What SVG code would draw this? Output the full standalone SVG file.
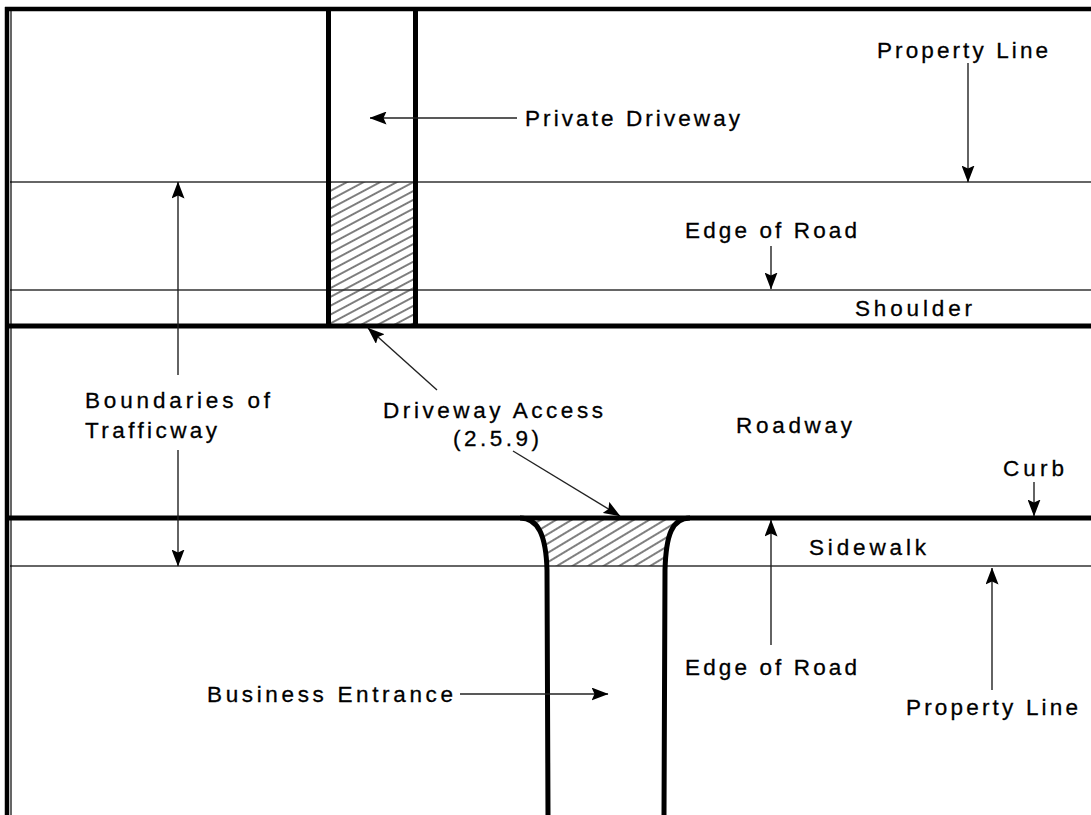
<svg xmlns="http://www.w3.org/2000/svg" width="1091" height="815" viewBox="0 0 1091 815">
<style>
.thick{stroke:#000;stroke-width:5;fill:none}
.border{stroke:#000;stroke-width:4.5;fill:none}
.thin{stroke:#333;stroke-width:1.4;fill:none}
.arrow{stroke:#222;stroke-width:1.4;fill:none;marker-end:url(#ah)}
.lbl{font-family:"Liberation Sans",Arial,sans-serif;font-size:22.5px;fill:#000;stroke:#000;stroke-width:0.3}
</style>
<defs>
<marker id="ah" viewBox="0 0 17 13" markerWidth="17" markerHeight="13" refX="16.5" refY="6.5" orient="auto" markerUnits="userSpaceOnUse">
<path d="M0,0 L17,6.5 L0,13 L3,6.5 Z" fill="#000"/>
</marker>
<pattern id="hatch" patternUnits="userSpaceOnUse" width="10" height="7.8" patternTransform="rotate(-28)">
<line x1="-1" y1="3.9" x2="11" y2="3.9" stroke="#000" stroke-width="1"/>
</pattern>
<pattern id="hatch2" patternUnits="userSpaceOnUse" width="10" height="8" patternTransform="rotate(-31)">
<line x1="-1" y1="4" x2="11" y2="4" stroke="#000" stroke-width="1"/>
</pattern>
<clipPath id="entClip">
<path d="M520 518 C538 518 546 535 547 566 L666 566 C666 535 672 518 690 518 Z"/>
</clipPath>
</defs>
<rect width="1091" height="815" fill="#fff"/>

<g id="plan">
<rect x="331" y="182" width="82" height="144" fill="url(#hatch)"/>
<rect x="515" y="519" width="180" height="48" fill="url(#hatch2)" clip-path="url(#entClip)"/>
<line class="thin" x1="10" y1="182" x2="1091" y2="182"/>
<line class="thin" x1="10" y1="290" x2="1091" y2="290"/>
<line class="thin" x1="10" y1="566" x2="1091" y2="566"/>
<line class="border" x1="5" y1="9" x2="1091" y2="9"/>
<line class="border" x1="7" y1="7" x2="7" y2="815"/>
<line stroke="#000" stroke-width="1.2" x1="11" y1="11" x2="11" y2="815"/>
<line class="thick" x1="9" y1="326" x2="1091" y2="326"/>
<line class="thick" x1="9" y1="518" x2="1091" y2="518"/>
<line class="thick" x1="328.5" y1="9" x2="328.5" y2="326"/>
<line class="thick" x1="415.5" y1="9" x2="415.5" y2="326"/>
<path class="thick" d="M520 518 C538 518 546 535 547 570 L548 815"/>
<path class="thick" d="M690 518 C672 518 666 535 665 570 L664 815"/>
</g>

<g id="connectors">
<line class="arrow" x1="968" y1="63" x2="968" y2="182"/>
<line class="arrow" x1="517" y1="118" x2="370" y2="118"/>
<line class="arrow" x1="771" y1="246" x2="771" y2="289"/>
<line class="arrow" x1="178" y1="375" x2="178" y2="182"/>
<line class="arrow" x1="178" y1="450" x2="178" y2="566"/>
<line class="arrow" x1="437" y1="390" x2="368" y2="328"/>
<line class="arrow" x1="513" y1="451" x2="620" y2="516"/>
<line class="arrow" x1="1034" y1="482" x2="1034" y2="516"/>
<line class="arrow" x1="771" y1="645" x2="771" y2="520"/>
<line class="arrow" x1="992" y1="690" x2="992" y2="568"/>
<line class="arrow" x1="460" y1="694" x2="608" y2="694"/>
</g>

<g id="label-property-line-top"><text class="lbl" x="877" y="58" textLength="171" lengthAdjust="spacing">Property Line</text></g>
<g id="label-private-driveway"><text class="lbl" x="525" y="126" textLength="215" lengthAdjust="spacing">Private Driveway</text></g>
<g id="label-edge-of-road-top"><text class="lbl" x="685" y="238" textLength="172" lengthAdjust="spacing">Edge of Road</text></g>
<g id="label-shoulder"><text class="lbl" x="855" y="316" textLength="117" lengthAdjust="spacing">Shoulder</text></g>
<g id="label-boundaries"><text class="lbl" x="85" y="408" textLength="185" lengthAdjust="spacing">Boundaries of</text><text class="lbl" x="85" y="438" textLength="132" lengthAdjust="spacing">Trafficway</text></g>
<g id="label-driveway-access"><text class="lbl" x="383" y="418" textLength="220" lengthAdjust="spacing">Driveway Access</text><text class="lbl" x="453" y="446" textLength="86" lengthAdjust="spacing">(2.5.9)</text></g>
<g id="label-roadway"><text class="lbl" x="736" y="433" textLength="116" lengthAdjust="spacing">Roadway</text></g>
<g id="label-curb"><text class="lbl" x="1003" y="476" textLength="61" lengthAdjust="spacing">Curb</text></g>
<g id="label-sidewalk"><text class="lbl" x="809" y="555" textLength="117" lengthAdjust="spacing">Sidewalk</text></g>
<g id="label-edge-of-road-bottom"><text class="lbl" x="685" y="675" textLength="172" lengthAdjust="spacing">Edge of Road</text></g>
<g id="label-business-entrance"><text class="lbl" x="207" y="702" textLength="246" lengthAdjust="spacing">Business Entrance</text></g>
<g id="label-property-line-bottom"><text class="lbl" x="906" y="715" textLength="172" lengthAdjust="spacing">Property Line</text></g>
</svg>
